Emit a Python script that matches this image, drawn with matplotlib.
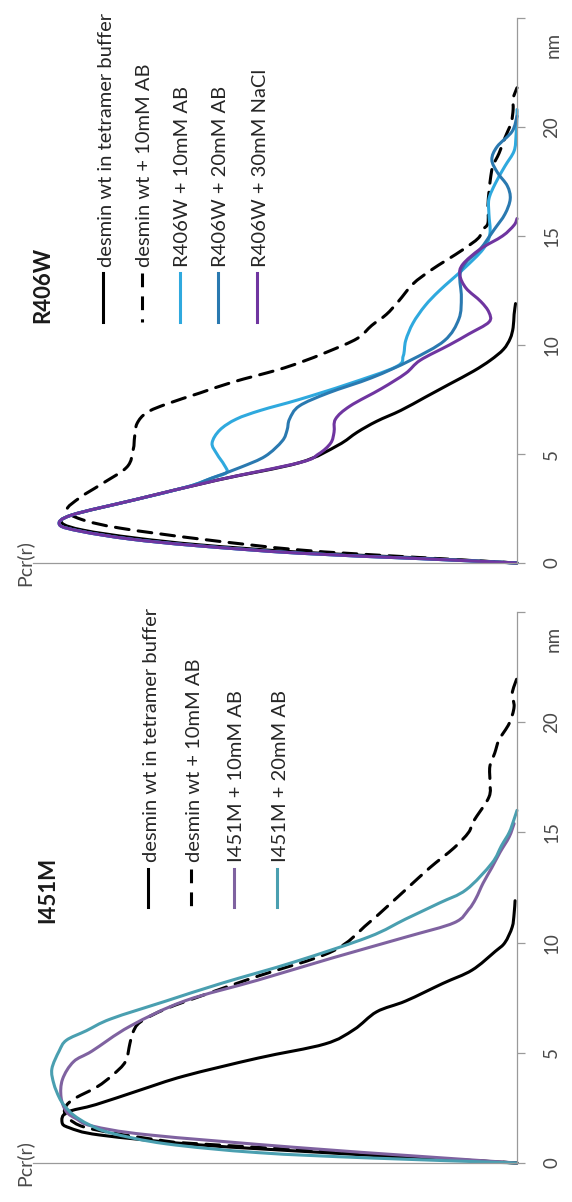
import matplotlib
matplotlib.use("Agg")
import matplotlib.pyplot as plt
from matplotlib.lines import Line2D
from matplotlib.path import Path
from matplotlib.patches import PathPatch

plt.rcParams['font.family'] = ['Lato', 'DejaVu Sans']

W, H = 572, 1202

# ---- R406W panel (top) ----
top_wt_r = [0, 0.25, 0.5, 0.83, 1.15, 1.5, 1.83, 2.2, 2.9, 3.8, 4.6, 5.4, 6.0, 6.5, 7.0, 7.6,
            8.2, 8.8, 9.3, 9.8, 10.3, 10.8, 11.4, 11.9]
top_wt_p = [0, 0.22, 0.45, 0.655, 0.79, 0.895, 0.94, 0.92, 0.79, 0.62, 0.45, 0.37, 0.33, 0.29,
            0.24, 0.19, 0.14, 0.09, 0.055, 0.028, 0.014, 0.008, 0.006, 0.003]

top_wtab_r = [0, 0.3, 0.6, 1.1, 1.6, 2.0, 2.43, 3.0, 3.6, 4.4, 5.2, 5.8, 6.4, 6.9, 7.3, 7.8,
              8.3, 8.85, 9.2, 9.7, 10.3, 10.9, 11.4, 12.0, 12.8, 13.4, 13.9, 14.4, 14.9, 15.3,
              15.6, 16.4, 17.0, 17.6, 18.2, 18.8, 19.5, 20.2, 20.8, 21.3, 21.8]
top_wtab_p = [0, 0.24, 0.45, 0.655, 0.82, 0.9, 0.93, 0.903, 0.86, 0.806, 0.793, 0.79, 0.785,
              0.765, 0.723, 0.655, 0.587, 0.496, 0.448, 0.39, 0.33, 0.30, 0.27, 0.245, 0.215,
              0.18, 0.145, 0.11, 0.08, 0.07, 0.06, 0.06, 0.058, 0.055, 0.05, 0.037, 0.025,
              0.012, 0.008, 0.008, 0.0]

r406w_10_r = [0, 0.2, 0.45, 0.8, 1.1, 1.45, 1.75, 2.2, 2.9, 3.5, 3.9, 4.15, 4.5, 5.0, 5.5, 6.1,
              6.6, 7.0, 7.5, 8.2, 9.0, 9.5, 10.2, 11.0, 11.8, 12.5, 13.5, 14.4, 15.1, 16.0,
              16.7, 17.4, 18.2, 18.9, 19.6, 20.5, 20.8]
r406w_10_p = [0, 0.2, 0.45, 0.665, 0.8, 0.9, 0.945, 0.92, 0.79, 0.68, 0.63, 0.60, 0.605, 0.62,
              0.63, 0.614, 0.58, 0.53, 0.45, 0.35, 0.25, 0.235, 0.23, 0.215, 0.19, 0.16, 0.11,
              0.07, 0.056, 0.058, 0.058, 0.045, 0.025, 0.006, 0.002, 0.0, 0.0]

r406w_20_r = [0, 0.2, 0.45, 0.8, 1.1, 1.45, 1.75, 2.2, 2.9, 3.5, 3.9, 4.4, 4.9, 5.6, 6.1, 6.6,
              7.2, 7.8, 8.5, 9.3, 10.2, 11.2, 12.2, 13.2, 13.8, 14.4, 15.3, 16.0, 16.7, 17.3,
              17.9, 18.5, 19.1, 19.8, 20.5]
r406w_20_p = [0, 0.2, 0.45, 0.665, 0.8, 0.9, 0.945, 0.92, 0.79, 0.68, 0.63, 0.57, 0.52, 0.485,
              0.475, 0.47, 0.45, 0.39, 0.30, 0.22, 0.15, 0.12, 0.115, 0.118, 0.105, 0.076,
              0.047, 0.025, 0.014, 0.02, 0.04, 0.052, 0.041, 0.01, 0.0]

r406w_nacl_r = [0, 0.2, 0.45, 0.8, 1.1, 1.45, 1.75, 2.2, 2.9, 3.8, 4.6, 5.0, 5.5, 6.0, 6.6, 7.2,
                8.0, 8.7, 9.3, 10.0, 10.5, 11.05, 11.5, 12.0, 12.6, 13.2, 13.7, 14.4, 15.0,
                15.5, 15.8]
r406w_nacl_p = [0, 0.2, 0.45, 0.665, 0.8, 0.9, 0.945, 0.92, 0.79, 0.62, 0.45, 0.41, 0.385,
                0.378, 0.375, 0.345, 0.28, 0.23, 0.20, 0.14, 0.10, 0.058, 0.058, 0.075, 0.105,
                0.118, 0.112, 0.076, 0.03, 0.006, 0.0]

# ---- I451M panel (bottom) ----
bot_wt_r = [0, 0.25, 0.5, 0.82, 1.27, 1.6, 1.85, 2.3, 2.65, 3.3, 3.95, 4.76, 5.4, 6.05, 6.86,
            7.35, 8.15, 8.75, 9.6, 10.0, 10.7, 11.3, 11.9]
bot_wt_p = [0, 0.22, 0.42, 0.655, 0.862, 0.925, 0.94, 0.93, 0.87, 0.78, 0.687, 0.535, 0.397,
            0.337, 0.29, 0.23, 0.153, 0.093, 0.045, 0.025, 0.01, 0.006, 0.004]

bot_wtab_r = [0, 0.3, 0.6, 0.9, 1.04, 1.36, 1.65, 2.0, 2.4, 2.86, 3.45, 4.0, 4.6, 5.4, 5.9, 6.4,
              7.0, 7.67, 8.48, 9.6, 10.9, 12.4, 13.4, 14.3, 15.0, 15.5, 16.6, 17.3, 18.0, 18.6,
              19.2, 19.95, 20.7, 21.3, 22.0]
bot_wtab_p = [0, 0.24, 0.45, 0.68, 0.74, 0.835, 0.897, 0.925, 0.935, 0.919, 0.868, 0.835,
              0.809, 0.80, 0.794, 0.778, 0.725, 0.641, 0.535, 0.382, 0.306, 0.23, 0.18, 0.13,
              0.1, 0.09, 0.058, 0.056, 0.056, 0.046, 0.037, 0.016, 0.006, 0.01, 0.0]

i451m_10_r = [0, 0.3, 0.71, 1.28, 1.68, 2.0, 2.33, 2.98, 3.8, 4.6, 5.08, 6.2, 7.35, 8.3, 9.3,
              10.25, 10.9, 11.5, 12.0, 12.7, 13.4, 14.1, 14.8, 15.4]
i451m_10_p = [0, 0.2, 0.459, 0.763, 0.878, 0.91, 0.931, 0.942, 0.939, 0.916, 0.878, 0.80,
              0.687, 0.535, 0.382, 0.23, 0.13, 0.1, 0.085, 0.07, 0.052, 0.035, 0.016, 0.006]

i451m_20_r = [0, 0.23, 0.47, 0.87, 1.36, 1.75, 2.17, 2.6, 2.98, 3.6, 4.27, 5.08, 5.57, 6.0,
              6.54, 7.35, 8.15, 9.13, 10.26, 11.07, 11.8, 12.4, 13.6, 14.4, 15.0, 15.6, 16.0]
i451m_20_p = [0, 0.306, 0.535, 0.725, 0.839, 0.885, 0.916, 0.935, 0.946, 0.957, 0.961, 0.946,
              0.931, 0.89, 0.839, 0.725, 0.611, 0.459, 0.306, 0.23, 0.16, 0.105, 0.052, 0.032,
              0.016, 0.006, 0.0]

r_ticks = [0, 5, 10, 15, 20, 25]
r_tick_labels = ['0', '5', '10', '15', '20', '']

top_series = [
    ("desmin wt in tetramer buffer", top_wt_r, top_wt_p, "black", "-"),
    ("desmin wt + 10mM AB", top_wtab_r, top_wtab_p, "black", "--"),
    ("R406W + 10mM AB", r406w_10_r, r406w_10_p, "#2fa9de", "-"),
    ("R406W + 20mM AB", r406w_20_r, r406w_20_p, "#2a79b0", "-"),
    ("R406W + 30mM NaCl", r406w_nacl_r, r406w_nacl_p, "#6f35a0", "-"),
]
bot_series = [
    ("desmin wt in tetramer buffer", bot_wt_r, bot_wt_p, "black", "-"),
    ("desmin wt + 10mM AB", bot_wtab_r, bot_wtab_p, "black", "--"),
    ("I451M + 10mM AB", i451m_10_r, i451m_10_p, "#7f62a0", "-"),
    ("I451M + 20mM AB", i451m_20_r, i451m_20_p, "#4a9fb0", "-"),
]

DASH = (0, (4.5, 3))
GREY = "#9a9a9a"
TXT = "#4a4a4a"


def fpos(x, y):
    return x / W, 1 - y / H


def smooth_path(xs, ys):
    # smoothed line through the read points (like a spreadsheet "smoothed line")
    pts = list(zip(xs, ys))
    verts = [pts[0]]
    codes = [Path.MOVETO]
    n = len(pts)
    for i in range(n - 1):
        p0 = pts[i - 1] if i > 0 else pts[i]
        p1, p2 = pts[i], pts[i + 1]
        p3 = pts[i + 2] if i + 2 < n else pts[i + 1]
        c1 = (p1[0] + (p2[0] - p0[0]) / 6, p1[1] + (p2[1] - p0[1]) / 6)
        c2 = (p2[0] - (p3[0] - p1[0]) / 6, p2[1] - (p3[1] - p1[1]) / 6)
        verts += [c1, c2, p2]
        codes += [Path.CURVE4] * 3
    return Path(verts, codes)


fig = plt.figure(figsize=(W / 100, H / 100), dpi=100)


def panel(y_top, y_zero, series, title, title_xy, leg_x, leg_text_y, leg_line):
    ax = fig.add_axes([33 / W, 1 - y_zero / H, 484 / W, (y_zero - y_top) / H])
    for name, r, p, col, ls in series:
        ax.add_patch(PathPatch(smooth_path(p, r), facecolor="none", edgecolor=col, lw=2.2,
                               linestyle=DASH if ls == "--" else "-", capstyle="round",
                               joinstyle="round", clip_on=False))
    ax.set_xlim(1, 0)
    ax.set_ylim(0, 25)
    for s in ["top", "left"]:
        ax.spines[s].set_visible(False)
    for s in ["right", "bottom"]:
        ax.spines[s].set_color(GREY)
        ax.spines[s].set_linewidth(0.9)
    ax.set_xticks([])
    ax.yaxis.tick_right()
    ax.set_yticks(r_ticks)
    ax.set_yticklabels(r_tick_labels)
    ax.tick_params(axis="y", direction="out", length=6, width=0.9, color=GREY,
                   labelrotation=90, labelsize=13.5, labelcolor=TXT, pad=13)
    for lab in ax.get_yticklabels():
        lab.set_va("center")
    ax.patch.set_visible(False)

    fig.text(*fpos(553, y_top + 27), "nm", rotation=90, ha="center", va="center",
             fontsize=13.5, color=TXT)
    fig.text(*fpos(24, y_zero), "Pcr(r)", rotation=90, ha="center", va="center",
             fontsize=14, color=TXT)
    fig.text(*fpos(*title_xy), title, rotation=90, ha="center", va="center",
             fontsize=16, fontweight="bold", color="#1a1a1a")

    for i, (name, r, p, col, ls) in enumerate(series):
        x = leg_x[i]
        fig.text(*fpos(x + 3, leg_text_y), name, rotation=90, ha="center", va="bottom",
                 fontsize=14.5, color="#262626")
        x0, y0 = fpos(x, leg_line[0])
        x1, y1 = fpos(x, leg_line[1])
        fig.add_artist(Line2D([x0, x1], [y0, y1], transform=fig.transFigure, color=col,
                              lw=2.2, linestyle=DASH if ls == "--" else "-"))
    return ax


panel(18, 563, top_series, "R406W", (43, 285), [103, 142, 180, 218, 257], 267, (273, 322))
panel(612, 1163, bot_series, "I451M", (48, 890), [148, 191, 234, 277], 862, (869, 907))

fig.savefig("out.png", dpi=100)
